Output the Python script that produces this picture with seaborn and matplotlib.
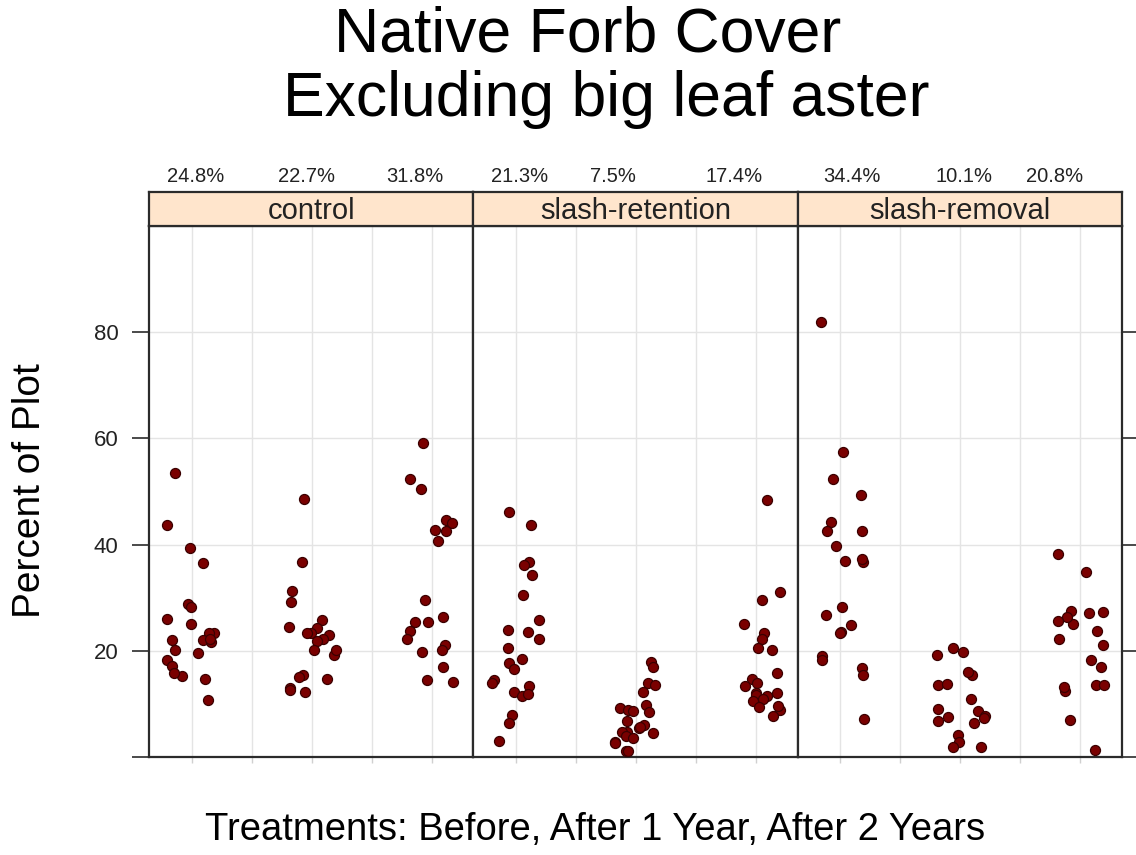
import numpy as np
import pandas as pd
import matplotlib
matplotlib.use("Agg")
import matplotlib.pyplot as plt
import matplotlib.transforms as mtransforms
import seaborn as sns

# Percent cover of native forbs per plot, by treatment and sampling period
treatments = ["control", "slash-retention", "slash-removal"]
periods = ["Before", "After 1 Year", "After 2 Years"]

control_before = [53.4, 43.6, 39.3, 36.5, 28.9, 28.2, 26.0, 25.0, 23.3, 23.3, 22.1,
                  22.1, 21.6, 22.3, 20.2, 19.5, 18.3, 17.2, 15.3, 15.8, 14.7, 10.7]
control_1yr = [48.6, 36.8, 31.3, 29.1, 25.8, 24.2, 24.5, 23.3, 23.3, 23.0, 22.3,
               21.9, 20.2, 19.2, 20.1, 15.5, 15.1, 14.7, 13.0, 12.2, 12.6]
control_2yr = [59.1, 52.4, 50.4, 44.6, 44.1, 42.5, 42.8, 40.6, 29.5, 25.5, 25.5,
               26.3, 23.8, 22.3, 21.0, 19.7, 20.2, 17.0, 14.2, 14.5]

retention_before = [46.1, 43.6, 36.8, 36.1, 34.3, 30.5, 25.8, 24.0, 23.6, 22.3, 20.5,
                    18.5, 17.7, 16.5, 14.5, 13.9, 13.3, 12.3, 11.5, 11.9, 8.0, 6.4, 3.1]
retention_1yr = [17.9, 16.9, 14.0, 13.5, 12.2, 9.7, 9.2, 8.5, 8.9, 8.7, 6.8, 5.4,
                 6.0, 5.6, 4.8, 4.7, 4.5, 4.0, 3.5, 2.9, 1.1, 2.6, 1.1]
retention_2yr = [48.4, 31.1, 29.5, 25.1, 23.3, 22.2, 20.2, 20.6, 15.9, 14.7, 13.3,
                 13.9, 12.1, 11.5, 12.1, 11.7, 11.0, 10.6, 9.4, 8.9, 9.6, 7.7]

removal_before = [82.0, 57.4, 52.4, 49.4, 44.3, 42.6, 42.6, 39.8, 36.8, 37.0, 37.3,
                  28.3, 26.8, 24.8, 23.5, 23.3, 19.0, 18.2, 16.7, 15.5, 7.2]
removal_1yr = [20.5, 19.2, 19.7, 15.5, 16.0, 13.5, 13.7, 10.9, 9.0, 8.7, 7.8, 7.6,
               6.8, 7.3, 6.4, 4.2, 2.9, 1.9, 1.9]
removal_2yr = [38.3, 34.8, 27.5, 27.1, 27.4, 25.0, 26.3, 25.7, 23.8, 22.3, 21.0,
               18.2, 17.0, 13.5, 12.5, 13.2, 13.5, 6.9, 1.3]

# Mean cover labels shown above each group
mean_labels = [["24.8%", "22.7%", "31.8%"],
               ["21.3%", "7.5%", "17.4%"],
               ["34.4%", "10.1%", "20.8%"]]

groups = {
    ("control", "Before"): control_before,
    ("control", "After 1 Year"): control_1yr,
    ("control", "After 2 Years"): control_2yr,
    ("slash-retention", "Before"): retention_before,
    ("slash-retention", "After 1 Year"): retention_1yr,
    ("slash-retention", "After 2 Years"): retention_2yr,
    ("slash-removal", "Before"): removal_before,
    ("slash-removal", "After 1 Year"): removal_1yr,
    ("slash-removal", "After 2 Years"): removal_2yr,
}
rows = []
for (trt, per), vals in groups.items():
    for v in vals:
        rows.append({"treatment": trt, "period": per, "cover": v})
df = pd.DataFrame(rows)

sns.set_style("white")
plt.rcParams["font.family"] = ["Liberation Sans", "DejaVu Sans"]

W, H = 1136, 855
fig = plt.figure(figsize=(W / 100, H / 100), dpi=100)

# panel geometry (pixels)
panel_left0 = 149.0
panel_w = 324.3
panel_top, panel_bottom = 226.0, 757.0
strip_top = 192.0
xlim = (-0.355, 2.347)

# horizontal placement of the mean labels, in group units
label_x = [[0.03, 0.96, 1.86],
           [0.03, 0.81, 1.82],
           [0.10, 1.03, 1.79]]

frame_col = "#2b2b2b"
grid_col = "#e4e4e4"
np.random.seed(11)

for i, trt in enumerate(treatments):
    left = (panel_left0 + i * panel_w) / W
    ax = fig.add_axes([left, 1 - panel_bottom / H, panel_w / W,
                       (panel_bottom - panel_top) / H])
    sub = df[df["treatment"] == trt]
    sns.stripplot(data=sub, x="period", y="cover", order=periods, jitter=0.21,
                  size=7.2, color="#7a0000", edgecolor="#3a0000", linewidth=0.9,
                  ax=ax, zorder=3)
    ax.set_xlim(*xlim)
    ax.set_ylim(0, 100)
    ax.set_xticks([0, 0.5, 1, 1.5, 2])
    ax.set_xticklabels([])
    ax.set_yticks([0, 20, 40, 60, 80])
    ax.set_xlabel("")
    ax.set_ylabel("")
    ax.set_axisbelow(True)
    for x in [0, 0.5, 1, 1.5, 2]:
        ax.axvline(x, color=grid_col, lw=1.0, zorder=0)
    for y in [20, 40, 60, 80]:
        ax.axhline(y, color=grid_col, lw=1.0, zorder=0)
    for s in ax.spines.values():
        s.set_color(frame_col)
        s.set_linewidth(1.6)
    ax.tick_params(axis="x", bottom=True, length=4, color="#d0d0d0", width=1)
    if i == 0:
        ax.set_yticklabels(["", "20", "40", "60", "80"])
        ax.tick_params(axis="y", left=True, length=12, width=1.2, color=frame_col,
                       pad=10, labelsize=16, labelcolor="#222222")
    else:
        ax.set_yticklabels([])
        ax.tick_params(axis="y", left=False)
    if i == 2:
        ax.tick_params(axis="y", right=True, length=10, width=1.2, color=frame_col)

    # strip with the treatment name
    sax = fig.add_axes([left, 1 - panel_top / H, panel_w / W,
                        (panel_top - strip_top) / H])
    sax.set_facecolor("#ffe5cc")
    sax.set_xticks([])
    sax.set_yticks([])
    for s in sax.spines.values():
        s.set_color(frame_col)
        s.set_linewidth(1.6)
    sax.text(0.5, 0.45, trt, transform=sax.transAxes, ha="center", va="center",
             fontsize=21, color="#222222")

    # mean cover labels above the strip
    trans = mtransforms.blended_transform_factory(ax.transData, fig.transFigure)
    for lx, lab in zip(label_x[i], mean_labels[i]):
        ax.text(lx, 1 - 176 / H, lab, transform=trans, ha="center", va="center",
                fontsize=14.5, color="#222222", clip_on=False)

fig.text(588 / W, 1 - 52 / H, "Native Forb Cover", ha="center", va="baseline",
         fontsize=45, color="black")
fig.text(606 / W, 1 - 116 / H, "Excluding big leaf aster", ha="center",
         va="baseline", fontsize=45, color="black")
fig.text(30 / W, 1 - 491 / H, "Percent of Plot", rotation=90, ha="center",
         va="center", fontsize=28, color="black")
fig.text(595 / W, 1 - 830 / H, "Treatments: Before, After 1 Year, After 2 Years",
         ha="center", va="center", fontsize=27.5, color="black")

fig.savefig("out.png", dpi=100, facecolor="white")
